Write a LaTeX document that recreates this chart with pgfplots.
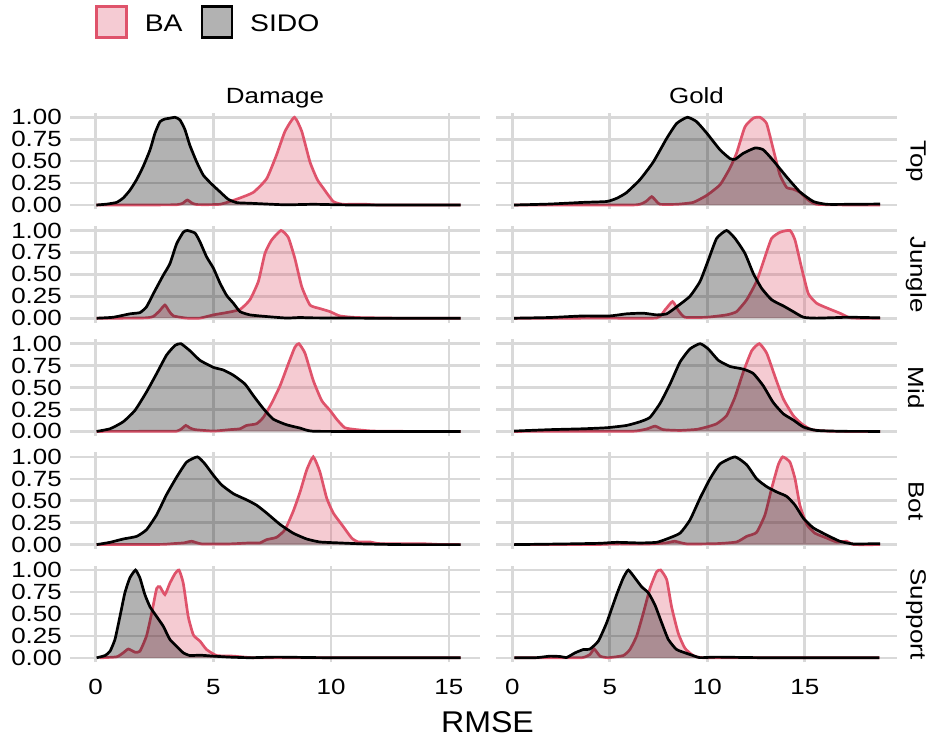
\documentclass[border=0pt]{standalone}
\usepackage{fontspec}
\setmainfont{Liberation Sans}
\usepackage{graphicx}
\usepackage{pgfplots}
\pgfplotsset{compat=1.18}
\usepackage{pgfplotstable}
\definecolor{ba}{HTML}{DF536B}
\definecolor{gridc}{HTML}{D9D9D9}
\newcommand\sx[1]{\scalebox{1.18}[1]{#1}}
\newcommand\tf{\fontsize{22}{22}\selectfont}

% ---------- Damage ----------
\pgfplotstableread{
x y
0.03 0
0.47 0.01
0.89 0.03
1.17 0.08
1.46 0.17
1.74 0.29
2.02 0.44
2.31 0.63
2.52 0.82
2.73 0.95
2.94 0.98
3.16 0.99
3.37 1.0
3.58 0.97
3.79 0.86
4.0 0.68
4.29 0.49
4.57 0.34
4.92 0.24
5.28 0.15
5.63 0.065
5.99 0.027
6.55 0.02
7.26 0.011
8.1 0.002
9.24 0.008
10.65 0.001
13 0
15.5 0
}\TDsi
\pgfplotstableread{
x y
0.03 0
2.5 0.001
3.44 0.003
3.7 0.02
3.89 0.057
4.1 0.02
4.29 0.005
4.8 0.004
5.28 0.008
5.7 0.04
6.13 0.08
6.7 0.145
7.26 0.3
7.68 0.57
8.04 0.84
8.44 1.0
8.75 0.84
9.1 0.49
9.41 0.29
9.67 0.19
10.09 0.04
10.5 0.008
11.37 0.01
12.07 0
15.5 0
}\TDba
\pgfplotstableread{
x y
0.04 0
0.75 0.011
1.46 0.05
1.88 0.064
2.16 0.13
2.45 0.28
2.87 0.49
3.15 0.62
3.44 0.85
3.72 0.98
3.89 1.0
4.22 0.97
4.43 0.87
4.71 0.70
5.0 0.57
5.28 0.40
5.56 0.26
5.85 0.17
6.13 0.075
6.55 0.038
7.26 0.019
8.1 0.002
8.67 0.008
9.24 0.004
12 0
15.5 0
}\JDsi
\pgfplotstableread{
x y
0.04 0
1.5 0.001
2.2 0.005
2.45 0.02
2.7 0.08
2.94 0.15
3.12 0.08
3.3 0.026
3.86 0.001
4.43 0.001
5.0 0.038
5.56 0.064
6.13 0.10
6.55 0.21
6.91 0.42
7.19 0.74
7.47 0.89
7.87 1.0
8.18 0.92
8.46 0.68
8.75 0.36
9.1 0.15
9.52 0.11
9.95 0.075
10.37 0.026
11.08 0.008
13 0
15.5 0
}\JDba
\pgfplotstableread{
x y
0.04 0
0.61 0.03
1.17 0.11
1.67 0.24
2.16 0.45
2.59 0.66
3.01 0.87
3.37 0.98
3.62 1.0
4.0 0.92
4.43 0.81
5.0 0.73
5.42 0.70
5.85 0.64
6.34 0.54
6.69 0.41
7.12 0.26
7.54 0.14
8.1 0.076
8.68 0.038
9.24 0.002
12 0
15.5 0
}\MDsi
\pgfplotstableread{
x y
0.04 0
2.5 0.001
3.44 0.003
3.65 0.03
3.83 0.068
4.0 0.04
4.22 0.02
5.0 0.004
5.7 0.02
6.13 0.03
6.41 0.068
6.83 0.087
7.12 0.16
7.47 0.32
7.83 0.52
8.18 0.77
8.46 0.96
8.63 1.0
8.89 0.89
9.24 0.58
9.6 0.35
9.95 0.24
10.23 0.14
10.58 0.042
11.08 0.02
11.79 0.004
13.5 0
15.5 0
}\MDba
\pgfplotstableread{
x y
0.04 0
0.61 0.026
1.17 0.064
1.74 0.094
2.16 0.17
2.59 0.34
3.01 0.57
3.44 0.77
3.86 0.94
4.32 1.0
4.64 0.92
5.0 0.79
5.35 0.68
5.85 0.58
6.41 0.51
6.83 0.45
7.26 0.36
7.83 0.23
8.39 0.13
8.96 0.064
9.52 0.03
10.37 0.019
11.37 0.008
13 0
15.5 0
}\BDsi
\pgfplotstableread{
x y
0.04 0
2.0 0.001
2.87 0.003
3.3 0.011
3.75 0.02
4.08 0.038
4.5 0.008
5.7 0.008
6.55 0.019
6.97 0.019
7.26 0.057
7.68 0.083
8.04 0.17
8.39 0.38
8.68 0.6
8.96 0.85
9.24 1.0
9.52 0.83
9.81 0.53
10.09 0.36
10.5 0.21
10.87 0.075
11.15 0.03
11.65 0.03
12.07 0.011
13.77 0.011
14.6 0.002
15.5 0
}\BDba
\pgfplotstableread{
x y
0.04 0
0.4 0.026
0.61 0.075
0.82 0.21
1.03 0.47
1.24 0.74
1.45 0.91
1.69 1.0
1.88 0.91
2.09 0.72
2.31 0.58
2.59 0.47
2.87 0.36
3.15 0.21
3.44 0.13
3.72 0.057
4.0 0.026
4.43 0.03
5.0 0.019
5.7 0.008
6.55 0.001
7.69 0.008
9.5 0.002
12 0
15.5 0
}\SDsi
\pgfplotstableread{
x y
0.18 0
0.89 0.011
1.17 0.057
1.39 0.10
1.67 0.064
1.88 0.075
2.16 0.25
2.38 0.51
2.59 0.79
2.73 0.81
2.94 0.72
3.15 0.85
3.37 0.96
3.54 1.0
3.72 0.85
3.93 0.47
4.15 0.26
4.43 0.19
4.71 0.094
5.14 0.026
5.85 0.019
6.7 0.001
9 0
15.5 0
}\SDba
% ---------- Gold ----------
\pgfplotstableread{
x y
0.09 0
1.93 0.011
3.64 0.03
4.84 0.04
5.35 0.076
5.85 0.14
6.55 0.29
7.23 0.49
7.92 0.76
8.43 0.93
8.98 1.0
9.45 0.95
9.97 0.82
10.65 0.63
11.16 0.53
11.42 0.52
11.85 0.59
12.45 0.65
12.87 0.63
13.37 0.51
14.07 0.32
14.75 0.15
15.44 0.04
16.12 0.008
17.3 0.008
18.86 0.011
}\TGsi
\pgfplotstableread{
x y
0.09 0
4.0 0.001
6.38 0.002
6.85 0.04
7.15 0.095
7.4 0.04
7.58 0.008
8.43 0.008
9.28 0.03
9.97 0.11
10.65 0.23
11.16 0.42
11.5 0.59
11.93 0.89
12.36 0.99
12.7 1.0
13.04 0.93
13.39 0.63
13.73 0.34
14.07 0.2
14.41 0.18
14.75 0.145
15.18 0.057
15.61 0.008
17 0.001
18.86 0
}\TGba
\pgfplotstableread{
x y
0.09 0
1.93 0.008
3.64 0.026
5.01 0.026
5.87 0.05
6.72 0.057
7.4 0.038
7.92 0.05
8.43 0.13
9.11 0.25
9.63 0.42
10.05 0.66
10.48 0.91
10.99 1.0
11.42 0.91
11.93 0.74
12.36 0.51
12.79 0.34
13.3 0.21
13.9 0.14
14.41 0.075
14.93 0.011
15.61 0.001
17.3 0.011
18.86 0.004
}\JGsi
\pgfplotstableread{
x y
0.09 0
5.0 0.001
7.4 0.003
7.83 0.094
8.22 0.19
8.5 0.094
8.85 0.011
9.97 0.011
10.99 0.038
11.5 0.075
12.02 0.21
12.53 0.42
12.96 0.70
13.3 0.91
13.73 0.98
14.24 1.0
14.5 0.89
14.84 0.57
15.18 0.28
15.61 0.17
16.21 0.11
16.8 0.057
17.23 0.011
17.49 0.001
18.86 0
}\JGba
\pgfplotstableread{
x y
0.09 0.004
1.93 0.02
3.64 0.03
4.84 0.042
5.86 0.068
6.55 0.11
7.06 0.16
7.58 0.32
8.09 0.54
8.6 0.79
9.11 0.94
9.63 1.0
10.05 0.94
10.57 0.81
11.17 0.74
11.85 0.71
12.36 0.66
12.87 0.52
13.38 0.33
13.9 0.2
14.41 0.13
14.93 0.05
15.61 0.011
17 0.001
18.86 0
}\MGsi
\pgfplotstableread{
x y
0.09 0
4.0 0.001
6.2 0.002
6.89 0.027
7.32 0.06
7.74 0.02
8.6 0.011
9.45 0.023
9.97 0.05
10.48 0.087
10.99 0.18
11.42 0.39
11.85 0.68
12.28 0.92
12.67 1.0
13.05 0.89
13.48 0.62
13.9 0.37
14.41 0.18
14.84 0.087
15.35 0.02
16.46 0.001
18.86 0
}\MGba
\pgfplotstableread{
x y
0.09 0
2.79 0.008
4.5 0.015
5.35 0.026
6.55 0.019
7.4 0.026
7.92 0.064
8.6 0.13
9.11 0.28
9.63 0.53
10.14 0.75
10.65 0.92
11.42 1.0
12.02 0.91
12.53 0.75
13.05 0.66
13.56 0.60
14.07 0.55
14.5 0.45
14.93 0.30
15.44 0.19
16.12 0.11
16.8 0.038
17.49 0.008
18.86 0.011
}\BGsi
\pgfplotstableread{
x y
0.09 0
3.0 0.001
4.5 0.002
5.35 0.008
7.06 0.008
7.9 0.02
8.34 0.038
8.94 0.008
10.48 0.011
11.5 0.03
12.02 0.094
12.53 0.14
12.96 0.34
13.3 0.64
13.64 0.91
13.87 1.0
14.24 0.94
14.5 0.75
14.75 0.45
15.1 0.23
15.52 0.13
16.12 0.075
16.63 0.03
17.15 0.038
17.49 0.001
18.86 0
}\BGba
\pgfplotstableread{
x y
0.1 0
1.25 0.002
1.93 0.019
2.44 0.015
2.79 0.004
3.22 0.057
3.64 0.094
3.98 0.10
4.41 0.19
4.84 0.40
5.35 0.72
5.69 0.91
5.95 1.0
6.29 0.91
6.63 0.81
6.98 0.74
7.32 0.60
7.66 0.40
8.0 0.21
8.43 0.094
9.11 0.038
9.62 0.002
10.48 0.008
13 0.001
18.82 0
}\SGsi
\pgfplotstableread{
x y
0.1 0
2.5 0.001
3.6 0.002
3.98 0.038
4.2 0.10
4.5 0.019
4.92 0.001
5.69 0.026
6.03 0.094
6.38 0.25
6.72 0.51
7.06 0.79
7.4 0.98
7.61 1.0
7.92 0.89
8.17 0.58
8.51 0.28
8.85 0.11
9.28 0.026
9.8 0.001
13 0
18.82 0
}\SGba

\pgfplotsset{
  panel/.style={scale only axis, height=96.5pt, ymin=-0.05, ymax=1.05,
    axis line style={draw=none}, major tick length=0pt, tick style={draw=none},
    grid=major, grid style={gridc, line width=2.6pt},
    ytick={0,0.25,0.5,0.75,1}, xtick={0,5,10,15}, clip mode=individual,
    anchor=north west},
  leftp/.style={panel, width=410pt, xmin=-1.09, xmax=16.32,
    yticklabels={\sx{0.00},\sx{0.25},\sx{0.50},\sx{0.75},\sx{1.00}},
    yticklabel style={font=\tf, inner sep=0pt, xshift=-8pt}},
  rightp/.style={panel, width=401pt, xmin=-0.836, xmax=19.73, yticklabels={}},
  noxl/.style={xticklabels={}},
  xl/.style={xticklabels={\sx{0},\sx{5},\sx{10},\sx{15}},
    xticklabel style={font=\tf, inner sep=0pt, yshift=-17pt}},
  bafill/.style={draw=none, fill=ba, fill opacity=0.3, smooth, tension=0.3, forget plot},
  baline/.style={ba, line width=2.7pt, smooth, tension=0.3, forget plot},
  sfill/.style={draw=none, fill=black, fill opacity=0.3, smooth, tension=0.3, forget plot},
  sline/.style={black, line width=2.7pt, smooth, tension=0.3, forget plot},
  striptop/.style={title style={at={(0.5,1)}, anchor=base, yshift=3.8pt, inner sep=0pt, font=\tf}},
}
\newcommand\pair[2]{%
  \addplot[bafill] table {#1} \closedcycle;
  \addplot[baline] table {#1};
  \addplot[sfill] table {#2} \closedcycle;
  \addplot[sline] table {#2};
}
\newcommand\rstrip[1]{\node[rotate=-90, font=\tf, inner sep=0pt] at (rel axis cs:1.0474,0.5) {\sx{#1}};}

\begin{document}
\begin{tikzpicture}
\useasboundingbox (0,0) rectangle (931pt,738pt);
% ---- Damage column ----
\begin{axis}[leftp, noxl, at={(70pt,625.1pt)}, striptop, title={\sx{Damage}},
  legend style={at={(axis description cs:0.061,2.118)}, anchor=north west, draw=none, fill=none,
    inner sep=0pt, font=\fontsize{24}{24}\selectfont, legend columns=2,
    /tikz/every even column/.append style={column sep=16pt},
    /tikz/every odd column/.append style={column sep=15pt}},
  legend image code/.code={\draw[#1] (1.3pt,-13.9pt) rectangle (31.3pt,17.1pt);}]
\addlegendimage{fill=ba!30, draw=ba, line width=2.6pt}
\addlegendentry{\sx{BA}}
\addlegendimage{fill=black!30, draw=black, line width=2.6pt}
\addlegendentry{\sx{SIDO}}
\pair{\TDba}{\TDsi}
\end{axis}
\begin{axis}[leftp, noxl, at={(70pt,511.9pt)}]
\pair{\JDba}{\JDsi}
\end{axis}
\begin{axis}[leftp, noxl, at={(70pt,398.7pt)}]
\pair{\MDba}{\MDsi}
\end{axis}
\begin{axis}[leftp, noxl, at={(70pt,285.5pt)}]
\pair{\BDba}{\BDsi}
\end{axis}
\begin{axis}[leftp, xl, at={(70pt,172.3pt)}]
\pair{\SDba}{\SDsi}
\end{axis}
% ---- Gold column ----
\begin{axis}[rightp, noxl, at={(496pt,625.1pt)}, striptop, title={\sx{Gold}}]
\pair{\TGba}{\TGsi}
\rstrip{Top}
\end{axis}
\begin{axis}[rightp, noxl, at={(496pt,511.9pt)}]
\pair{\JGba}{\JGsi}
\rstrip{Jungle}
\end{axis}
\begin{axis}[rightp, noxl, at={(496pt,398.7pt)}]
\pair{\MGba}{\MGsi}
\rstrip{Mid}
\end{axis}
\begin{axis}[rightp, noxl, at={(496pt,285.5pt)}]
\pair{\BGba}{\BGsi}
\rstrip{Bot}
\end{axis}
\begin{axis}[rightp, xl, at={(496pt,172.3pt)}]
\pair{\SGba}{\SGsi}
\rstrip{Support}
\end{axis}
\node[anchor=base, font=\fontsize{30}{30}\selectfont, inner sep=0pt] at (487.5pt,5pt) {\scalebox{1.07}[1]{RMSE}};
\end{tikzpicture}
\end{document}
